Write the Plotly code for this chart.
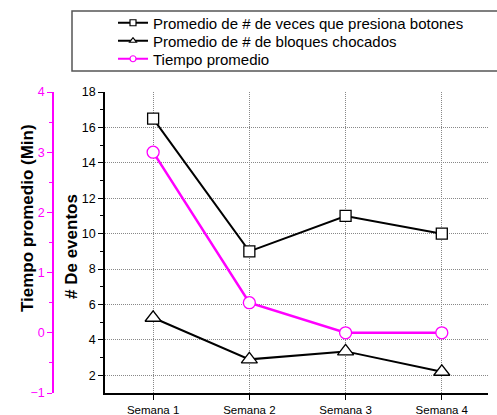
import plotly.graph_objects as go

categorias = ["Semana 1", "Semana 2", "Semana 3", "Semana 4"]
botones = [16.5, 9.0, 11.0, 10.0]
bloques = [5.25, 2.9, 3.35, 2.2]
tiempo = [3.0, 0.5, 0.0, 0.0]
nombres = ["Promedio de # de veces que presiona botones",
           "Promedio de # de bloques chocados",
           "Tiempo promedio"]

W, H = 497, 415
ML, MR, MT, MB = 10, 9, 92, 22
pw = W - ML - MR
ph = H - MT - MB
x0 = (105 - ML) / pw
pos2 = (53 - ML) / pw

def px_x(p):
    return (p - ML) / pw

def px_y(p):
    return 1 - (p - MT) / ph

FONT = "Liberation Sans, Arial, sans-serif"
MAG = "#ff00ff"

fig = go.Figure()
fig.add_trace(go.Scatter(
    x=categorias, y=botones, name=nombres[0], showlegend=False,
    mode="lines+markers", line=dict(color="black", width=2),
    marker=dict(symbol="square", size=11, color="white", line=dict(color="black", width=1.3)),
))
fig.add_trace(go.Scatter(
    x=categorias, y=bloques, name=nombres[1], showlegend=False,
    mode="lines+markers", line=dict(color="black", width=2),
    marker=dict(symbol="triangle-up", size=14, color="white", line=dict(color="black", width=1.3)),
))
fig.add_trace(go.Scatter(
    x=categorias, y=tiempo, name=nombres[2], yaxis="y2", showlegend=False,
    mode="lines+markers", line=dict(color=MAG, width=2.5),
    marker=dict(symbol="circle", size=12, color="white", line=dict(color=MAG, width=1.3)),
))
# legend entries with smaller symbols, one legend per row
leg_names = ["legend", "legend2", "legend3"]
row_y = [23, 41, 59]
for nm, sym, col, lg in zip(nombres, ["square", "triangle-up", "circle"], ["black", "black", MAG], leg_names):
    fig.add_trace(go.Scatter(
        x=[None], y=[None], name=nm, mode="lines+markers", legend=lg,
        line=dict(color=col, width=2),
        marker=dict(symbol=sym, size=6, color="white", line=dict(color=col, width=1.2)),
    ))

leg_common = dict(xanchor="left", yanchor="middle", borderwidth=0,
                  bgcolor="rgba(0,0,0,0)", font=dict(size=15, family=FONT), itemwidth=30)

fig.update_layout(
    width=W, height=H,
    margin=dict(l=ML, r=MR, t=MT, b=MB, autoexpand=False),
    paper_bgcolor="white", plot_bgcolor="white",
    font=dict(family=FONT, color="black", size=12),
    showlegend=True,
    legend=dict(x=px_x(113), y=px_y(row_y[0]), **leg_common),
    legend2=dict(x=px_x(113), y=px_y(row_y[1]), **leg_common),
    legend3=dict(x=px_x(113), y=px_y(row_y[2]), **leg_common),
    xaxis=dict(
        domain=[x0, 1], range=[-0.5, 3.48],
        showline=True, linecolor="black", linewidth=1.5,
        ticks="outside", ticklen=5, tickcolor="black",
        showgrid=True, gridcolor="#888888", griddash="1px,1px", gridwidth=1,
        tickfont=dict(size=11.5), zeroline=False,
    ),
    yaxis=dict(
        range=[1, 18], tickvals=[2, 4, 6, 8, 10, 12, 14, 16, 18],
        showline=True, linecolor="black", linewidth=1.5,
        ticks="outside", ticklen=5, tickcolor="black",
        minor=dict(tickvals=[3, 5, 7, 9, 11, 13, 15, 17], ticks="outside", ticklen=3, tickcolor="black"),
        showgrid=True, gridcolor="#888888", griddash="1px,1px", gridwidth=1,
        tickfont=dict(size=12.5), zeroline=False,
    ),
    yaxis2=dict(
        overlaying="y", side="left", anchor="free", position=pos2,
        range=[-1, 4], tickvals=[-1, 0, 1, 2, 3, 4],
        showline=True, linecolor=MAG, linewidth=1.5,
        ticks="outside", ticklen=5, tickcolor=MAG,
        minor=dict(tickvals=[-0.5, 0.5, 1.5, 2.5, 3.5], ticks="outside", ticklen=3, tickcolor=MAG),
        tickfont=dict(size=12.5, color=MAG), showgrid=False, zeroline=False,
    ),
    shapes=[
        dict(type="rect", xref="paper", yref="paper",
             x0=px_x(72), x1=px_x(505), y0=px_y(11), y1=px_y(71),
             line=dict(color="#555555", width=1.5), fillcolor="rgba(0,0,0,0)", layer="below"),
    ],
    annotations=[
        dict(text="<b>Tiempo promedio (Min)</b>", textangle=-90, xref="paper", yref="paper",
             x=px_x(27), y=px_y(218), xanchor="center", yanchor="middle", showarrow=False,
             font=dict(size=17, family=FONT, color="black")),
        dict(text="<b># De eventos</b>", textangle=-90, xref="paper", yref="paper",
             x=px_x(71), y=px_y(247), xanchor="center", yanchor="middle", showarrow=False,
             font=dict(size=17, family=FONT, color="black")),
    ],
)

fig.write_html("out.html", config={"displayModeBar": False},
               post_script="document.body.style.margin='0';document.body.style.padding='0';")
